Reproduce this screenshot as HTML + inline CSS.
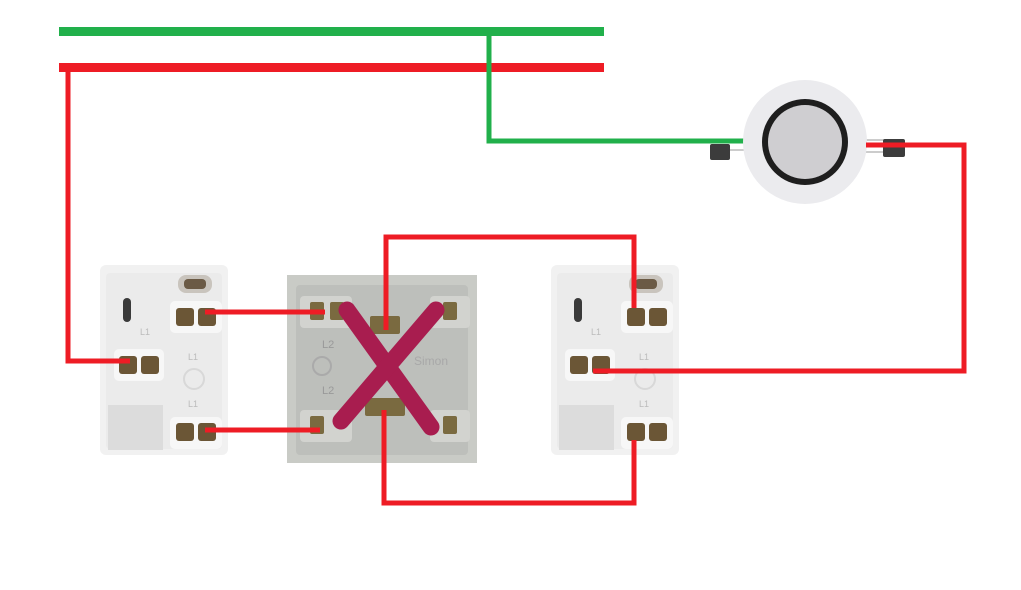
<!DOCTYPE html>
<html><head><meta charset="utf-8"><style>
html,body{margin:0;padding:0;background:#fff;}
svg{display:block;}
text{font-family:"Liberation Sans",sans-serif;}
</style></head><body>
<svg width="1021" height="590" viewBox="0 0 1021 590" xmlns="http://www.w3.org/2000/svg">
<defs>
<g id="sw">
  <rect x="0" y="0" width="128" height="190" rx="6" fill="#f1f1f1"/>
  <rect x="6" y="8" width="116" height="176" rx="4" fill="#ebebeb"/>
  <rect x="8" y="140" width="55" height="45" fill="#dcdcdc"/>
  <rect x="78" y="10" width="34" height="18" rx="8" fill="#c9c4bd"/>
  <rect x="84" y="14" width="22" height="10" rx="4" fill="#6b5a45"/>
  <rect x="23" y="33" width="8" height="24" rx="4" fill="#3a3a3a"/>
  <rect x="70" y="36" width="52" height="32" rx="5" fill="#f7f7f7"/>
  <rect x="76" y="43" width="18" height="18" rx="3" fill="#6b5636"/>
  <rect x="98" y="43" width="18" height="18" rx="3" fill="#6b5636"/>
  <rect x="14" y="84" width="50" height="32" rx="5" fill="#f7f7f7"/>
  <rect x="19" y="91" width="18" height="18" rx="3" fill="#6b5636"/>
  <rect x="41" y="91" width="18" height="18" rx="3" fill="#6b5636"/>
  <rect x="70" y="152" width="52" height="32" rx="5" fill="#f7f7f7"/>
  <rect x="76" y="158" width="18" height="18" rx="3" fill="#6b5636"/>
  <rect x="98" y="158" width="18" height="18" rx="3" fill="#6b5636"/>
  <circle cx="94" cy="114" r="10" fill="none" stroke="#d8d8d8" stroke-width="2"/>
  <text x="40" y="70" font-size="9" fill="#bbb">L1</text>
  <text x="88" y="95" font-size="9" fill="#bbb">L1</text>
  <text x="88" y="142" font-size="9" fill="#bbb">L1</text>
</g>
</defs>

<rect x="59" y="27" width="545" height="9" fill="#21b04b"/>
<rect x="59" y="63" width="545" height="9" fill="#ee1c25"/>
<polyline points="489,36 489,141 746,141" fill="none" stroke="#21b04b" stroke-width="5"/>

<use href="#sw" x="100" y="265"/>
<use href="#sw" x="551" y="265"/>

<polyline points="68,72 68,361 130,361" fill="none" stroke="#ee1c25" stroke-width="5"/>

<rect x="287" y="275" width="190" height="188" fill="#c9cbc6"/>
<rect x="296" y="285" width="172" height="170" rx="4" fill="#bdbfbb"/>
<rect x="300" y="296" width="52" height="32" rx="4" fill="#d2d3cf"/>
<rect x="310" y="302" width="14" height="18" rx="2" fill="#7a6a40"/>
<rect x="330" y="302" width="14" height="18" rx="2" fill="#7a6a40"/>
<rect x="430" y="296" width="40" height="32" rx="4" fill="#d2d3cf"/>
<rect x="443" y="302" width="14" height="18" rx="2" fill="#7a6a40"/>
<rect x="300" y="410" width="52" height="32" rx="4" fill="#d2d3cf"/>
<rect x="310" y="416" width="14" height="18" rx="2" fill="#7a6a40"/>
<rect x="430" y="410" width="40" height="32" rx="4" fill="#d2d3cf"/>
<rect x="443" y="416" width="14" height="18" rx="2" fill="#7a6a40"/>
<rect x="370" y="316" width="30" height="18" rx="2" fill="#7a6a40"/>
<rect x="365" y="398" width="40" height="18" rx="2" fill="#7a6a40"/>
<text x="322" y="348" font-size="11" fill="#999">L2</text>
<text x="322" y="394" font-size="11" fill="#999">L2</text>
<text x="414" y="365" font-size="12" fill="#a8a8a8">Simon</text>
<circle cx="322" cy="366" r="9" fill="none" stroke="#aaa" stroke-width="2"/>
<line x1="347" y1="310" x2="431" y2="427" stroke="#a81d4f" stroke-width="17" stroke-linecap="round"/>
<line x1="436" y1="310" x2="341" y2="421" stroke="#a81d4f" stroke-width="17" stroke-linecap="round"/>

<polyline points="205,312 325,312" fill="none" stroke="#ee1c25" stroke-width="5"/>
<polyline points="205,430 320,430" fill="none" stroke="#ee1c25" stroke-width="5"/>
<polyline points="386,330 386,237 634,237 634,308" fill="none" stroke="#ee1c25" stroke-width="5"/>
<polyline points="384,410 384,503 634,503 634,440" fill="none" stroke="#ee1c25" stroke-width="5"/>
<polyline points="593,371 964,371 964,145 866,145" fill="none" stroke="#ee1c25" stroke-width="5"/>

<line x1="722" y1="150" x2="746" y2="150" stroke="#ccc" stroke-width="2"/>
<rect x="710" y="144" width="20" height="16" rx="2" fill="#3c3c3c"/>
<line x1="865" y1="140" x2="890" y2="140" stroke="#ccc" stroke-width="2"/>
<line x1="865" y1="152" x2="890" y2="152" stroke="#ccc" stroke-width="2"/>
<circle cx="805" cy="142" r="62" fill="#ebebee"/>
<circle cx="805" cy="142" r="43" fill="#1e1e1e"/>
<circle cx="805" cy="142" r="37" fill="#cfced1"/>
<rect x="883" y="139" width="22" height="18" rx="2" fill="#3c3c3c"/>
<polyline points="866,145 905,145" fill="none" stroke="#ee1c25" stroke-width="5"/>
</svg>
</body></html>
